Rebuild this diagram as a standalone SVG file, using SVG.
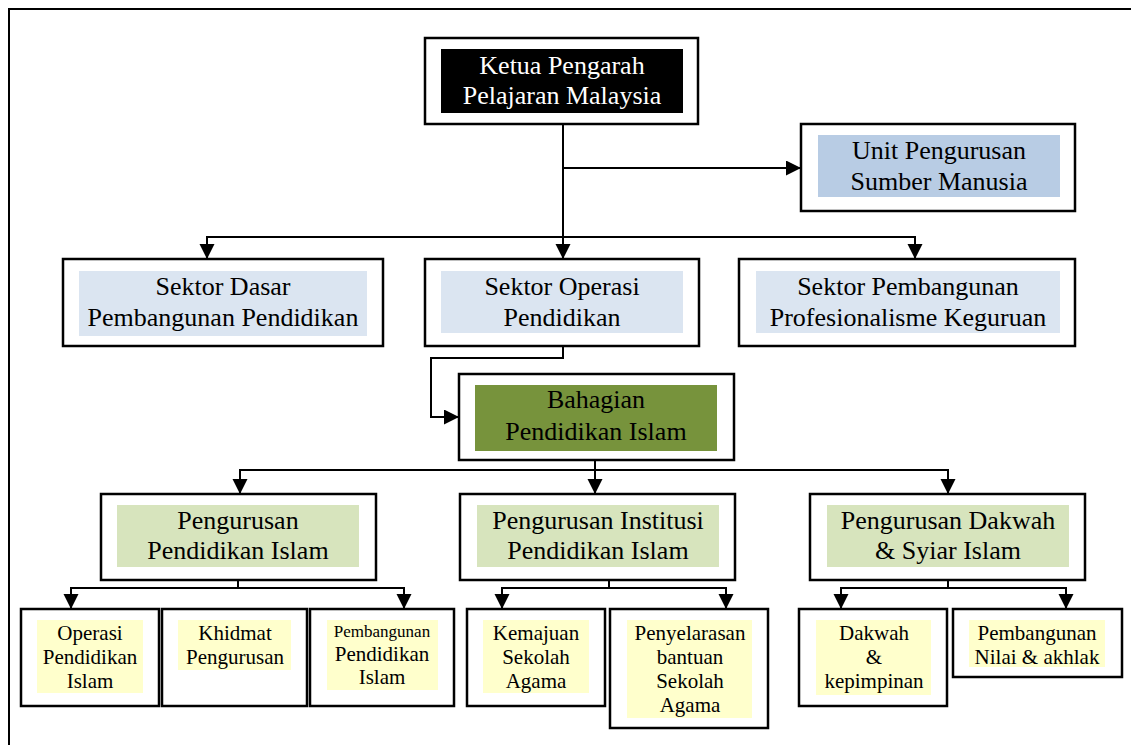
<svg xmlns="http://www.w3.org/2000/svg" width="1131" height="745" viewBox="0 0 1131 745">
<style>
.box{fill:#fff;stroke:#000;stroke-width:2.5}
.t{font-family:"Liberation Serif","Times New Roman",serif;text-anchor:middle;fill:#000}
.big{font-size:26px}
.sm{font-size:21px}
.con{fill:none;stroke:#000;stroke-width:2}
</style>
<defs>
<marker id="ah" markerUnits="userSpaceOnUse" markerWidth="16" markerHeight="16" refX="15" refY="7.5" orient="auto">
<path d="M0,0 L15,7.5 L0,15 z" fill="#000"/>
</marker>
</defs>
<rect width="1131" height="745" fill="#fff"/>
<path d="M9,745 V9 H1131" fill="none" stroke="#000" stroke-width="2"/>

<g id="connectors">
<path class="con" d="M563,124 V259" marker-end="url(#ah)"/>
<path class="con" d="M563,237 H207 V259" marker-end="url(#ah)"/>
<path class="con" d="M563,237 H915 V259" marker-end="url(#ah)"/>
<path class="con" d="M563,168 H801" marker-end="url(#ah)"/>
<path class="con" d="M563,346 V358 H431 V417 H459" marker-end="url(#ah)"/>
<path class="con" d="M595,460 V494" marker-end="url(#ah)"/>
<path class="con" d="M595,470 H240 V494" marker-end="url(#ah)"/>
<path class="con" d="M595,470 H948 V494" marker-end="url(#ah)"/>
<path class="con" d="M238,580 V588 H71 V609" marker-end="url(#ah)"/>
<path class="con" d="M238,588 H404 V609" marker-end="url(#ah)"/>
<path class="con" d="M609,580 V588 H502 V609" marker-end="url(#ah)"/>
<path class="con" d="M609,588 H726 V609" marker-end="url(#ah)"/>
<path class="con" d="M948,580 V588 H841 V609" marker-end="url(#ah)"/>
<path class="con" d="M948,588 H1066 V609" marker-end="url(#ah)"/>
</g>

<g id="ketua">
<rect class="box" x="425" y="38" width="273" height="86"/>
<rect x="441" y="49" width="242" height="64" fill="#000"/>
<text class="t big" x="562" y="74" fill="#fff" style="fill:#fff">Ketua Pengarah</text>
<text class="t big" x="562" y="104" style="fill:#fff">Pelajaran Malaysia</text>
</g>

<g id="unit">
<rect class="box" x="801" y="124" width="274" height="87"/>
<rect x="818" y="135" width="242" height="62" fill="#b8cce4"/>
<text class="t big" x="939" y="159">Unit Pengurusan</text>
<text class="t big" x="939" y="190">Sumber Manusia</text>
</g>

<g id="sektor-dasar">
<rect class="box" x="63" y="259" width="320" height="87"/>
<rect x="79" y="271" width="288" height="65" fill="#dbe5f1"/>
<text class="t big" x="223" y="295">Sektor Dasar</text>
<text class="t big" x="223" y="326">Pembangunan Pendidikan</text>
</g>

<g id="sektor-operasi">
<rect class="box" x="425" y="259" width="274" height="87"/>
<rect x="441" y="271" width="242" height="62" fill="#dbe5f1"/>
<text class="t big" x="562" y="295">Sektor Operasi</text>
<text class="t big" x="562" y="326">Pendidikan</text>
</g>

<g id="sektor-pembangunan">
<rect class="box" x="739" y="259" width="336" height="87"/>
<rect x="756" y="271" width="304" height="62" fill="#dbe5f1"/>
<text class="t big" x="908" y="295">Sektor Pembangunan</text>
<text class="t big" x="908" y="326">Profesionalisme Keguruan</text>
</g>

<g id="bahagian">
<rect class="box" x="459" y="374" width="275" height="86"/>
<rect x="475" y="385" width="242" height="66" fill="#77933c"/>
<text class="t big" x="596" y="408">Bahagian</text>
<text class="t big" x="596" y="440">Pendidikan Islam</text>
</g>

<g id="pengurusan-pendidikan">
<rect class="box" x="101" y="494" width="275" height="86"/>
<rect x="117" y="505" width="242" height="62" fill="#d7e4bd"/>
<text class="t big" x="238" y="529">Pengurusan</text>
<text class="t big" x="238" y="559">Pendidikan Islam</text>
</g>

<g id="pengurusan-institusi">
<rect class="box" x="460" y="494" width="275" height="86"/>
<rect x="477" y="505" width="242" height="62" fill="#d7e4bd"/>
<text class="t big" x="598" y="529">Pengurusan Institusi</text>
<text class="t big" x="598" y="559">Pendidikan Islam</text>
</g>

<g id="pengurusan-dakwah">
<rect class="box" x="810" y="494" width="275" height="86"/>
<rect x="827" y="505" width="242" height="62" fill="#d7e4bd"/>
<text class="t big" x="948" y="529">Pengurusan Dakwah</text>
<text class="t big" x="948" y="559">&amp; Syiar Islam</text>
</g>

<g id="operasi">
<rect class="box" x="21" y="609" width="138" height="97"/>
<rect x="37" y="620" width="106" height="73" fill="#ffffcc"/>
<text class="t sm" x="90" y="640">Operasi</text>
<text class="t sm" x="90" y="664">Pendidikan</text>
<text class="t sm" x="90" y="688">Islam</text>
</g>

<g id="khidmat">
<rect class="box" x="162" y="609" width="145" height="97"/>
<rect x="178" y="620" width="113" height="50" fill="#ffffcc"/>
<text class="t sm" x="235" y="640">Khidmat</text>
<text class="t sm" x="235" y="664">Pengurusan</text>
</g>

<g id="pembangunan-pendidikan">
<rect class="box" x="310" y="609" width="144" height="97"/>
<rect x="327" y="620" width="111" height="70" fill="#ffffcc"/>
<text class="t" x="382" y="637" style="font-size:17px">Pembangunan</text>
<text class="t sm" x="382" y="661">Pendidikan</text>
<text class="t sm" x="382" y="684">Islam</text>
</g>

<g id="kemajuan">
<rect class="box" x="467" y="609" width="138" height="97"/>
<rect x="483" y="620" width="106" height="73" fill="#ffffcc"/>
<text class="t sm" x="536" y="640">Kemajuan</text>
<text class="t sm" x="536" y="664">Sekolah</text>
<text class="t sm" x="536" y="688">Agama</text>
</g>

<g id="penyelarasan">
<rect class="box" x="610" y="609" width="158" height="119"/>
<rect x="627" y="620" width="125" height="98" fill="#ffffcc"/>
<text class="t sm" x="690" y="640">Penyelarasan</text>
<text class="t sm" x="690" y="664">bantuan</text>
<text class="t sm" x="690" y="688">Sekolah</text>
<text class="t sm" x="690" y="712">Agama</text>
</g>

<g id="dakwah">
<rect class="box" x="799" y="609" width="148" height="97"/>
<rect x="816" y="620" width="115" height="75" fill="#ffffcc"/>
<text class="t sm" x="874" y="640">Dakwah</text>
<text class="t sm" x="874" y="664">&amp;</text>
<text class="t sm" x="874" y="688">kepimpinan</text>
</g>

<g id="pembangunan-nilai">
<rect class="box" x="953" y="609" width="169" height="68"/>
<rect x="969" y="620" width="136" height="47" fill="#ffffcc"/>
<text class="t sm" x="1037" y="640">Pembangunan</text>
<text class="t sm" x="1037" y="664">Nilai &amp; akhlak</text>
</g>
</svg>
